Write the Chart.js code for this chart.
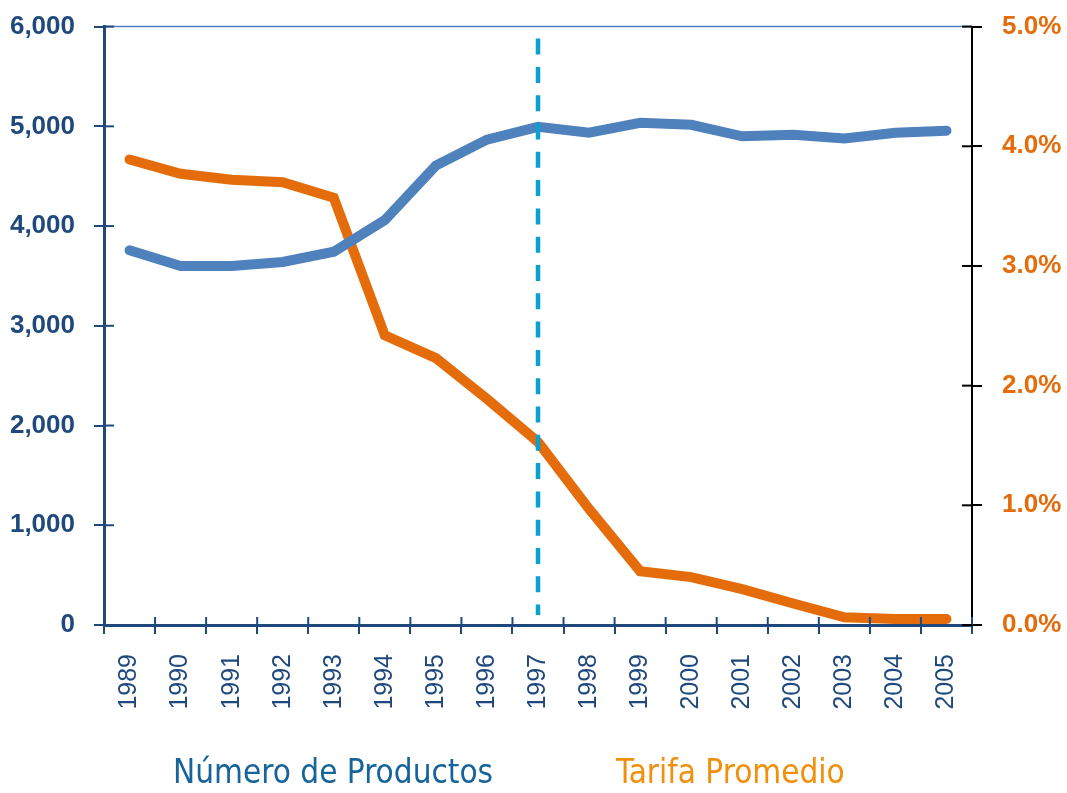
<!DOCTYPE html>
<html>

<head>
    <title>Chart</title>
    <script src="https://cdn.jsdelivr.net/npm/chart.js@4.4.0/dist/chart.umd.min.js"></script>
    <style>
        body { margin: 0; background: #fff; }
        #wrap { position: relative; width: 1067px; height: 793px; overflow: hidden; }
        #box { position: absolute; left: 0; top: -9px; width: 1067px; height: 802px; }
        .lg { position: absolute; top: 752px; font-family: 'DejaVu Sans Condensed', sans-serif; font-size: 33px; white-space: nowrap; }
    </style>
</head>

<body>
    <div id="wrap">
        <div id="box"><canvas id="ctx"></canvas></div>
        <div class="lg" style="left: 173px; color: #17649a;">Número de Productos</div>
        <div class="lg" style="left: 616px; color: #f0900c;">Tarifa Promedio</div>
    </div>

    <script>
        const years = ['1989', '1990', '1991', '1992', '1993', '1994', '1995', '1996', '1997',
                       '1998', '1999', '2000', '2001', '2002', '2003', '2004', '2005'];
        // número de productos (eje izquierdo)
        const productos = [3757, 3600, 3600, 3640, 3743, 4060, 4607, 4867, 4995,
                           4936, 5035, 5015, 4900, 4915, 4878, 4936, 4956];
        // tarifa promedio en % (eje derecho)
        const tarifa = [3.89, 3.77, 3.72, 3.70, 3.57, 2.42, 2.23, 1.89, 1.53,
                        0.97, 0.45, 0.40, 0.30, 0.18, 0.065, 0.05, 0.05];
        const markYear = '1997';

        const navy = '#1f497d';
        const font = "'Liberation Sans', Arial, sans-serif";

        // ticks that cross the axis, top border and the dashed 1997 line
        const decor = {
            id: 'decor',
            afterDatasetsDraw(chart) {
                const c = chart.ctx, a = chart.chartArea;
                const x = chart.scales.x, y = chart.scales.y, y1 = chart.scales.y1;
                c.save();
                c.strokeStyle = '#4f81bd';
                c.lineWidth = 1.5;
                c.beginPath();
                c.moveTo(a.left, a.top);
                c.lineTo(a.right, a.top);
                c.stroke();

                c.strokeStyle = '#0aa0d2';
                c.lineWidth = 4.5;
                c.setLineDash([16, 12.3]);
                const xm = x.getPixelForValue(years.indexOf(markYear));
                c.beginPath();
                c.moveTo(xm, a.top + 12);
                c.lineTo(xm, a.bottom - 10);
                c.stroke();
                c.setLineDash([]);

                c.lineWidth = 2;
                c.strokeStyle = navy;
                y.ticks.forEach(t => {
                    const py = y.getPixelForValue(t.value);
                    c.beginPath(); c.moveTo(a.left, py); c.lineTo(a.left + 10, py); c.stroke();
                });
                for (let i = 0; i <= years.length; i++) {
                    const px = a.left + (a.right - a.left) * i / years.length;
                    c.beginPath(); c.moveTo(px, a.bottom); c.lineTo(px, a.bottom - 8); c.stroke();
                }
                c.strokeStyle = '#000';
                y1.ticks.forEach(t => {
                    const py = y1.getPixelForValue(t.value);
                    c.beginPath(); c.moveTo(a.right, py); c.lineTo(a.right - 10, py); c.stroke();
                });
                c.restore();
            }
        };

        var chart = new Chart(document.getElementById('ctx'), {
            type: 'line',
            data: {
                labels: years,
                datasets: [{
                    label: 'Número de Productos',
                    data: productos,
                    yAxisID: 'y',
                    borderColor: '#4f81bd',
                    borderWidth: 10,
                    pointRadius: 0,
                    borderCapStyle: 'round',
                    tension: 0
                },
                {
                    label: 'Tarifa Promedio',
                    data: tarifa,
                    yAxisID: 'y1',
                    borderColor: '#e46c0a',
                    borderWidth: 10,
                    pointRadius: 0,
                    borderCapStyle: 'round',
                    tension: 0
                }]
            },
            options: {
                responsive: true,
                maintainAspectRatio: false,
                animation: false,
                layout: { padding: { top: 16, left: 0, right: 0, bottom: 0 } },
                plugins: {
                    legend: { display: false },
                    tooltip: { enabled: false }
                },
                scales: {
                    x: {
                        offset: true,
                        grid: { offset: true, drawOnChartArea: false, color: navy, lineWidth: 2, tickLength: 9 },
                        border: { color: navy, width: 3 },
                        ticks: {
                            color: navy, minRotation: 90, maxRotation: 90, padding: 20,
                            font: { family: font, size: 25 }
                        },
                        afterFit: s => { s.height = 168; }
                    },
                    y: {
                        position: 'left',
                        min: 0, max: 6000,
                        grid: { drawOnChartArea: false, color: navy, lineWidth: 2, tickLength: 10 },
                        border: { color: navy, width: 3 },
                        ticks: {
                            stepSize: 1000, color: navy, padding: 19,
                            font: { family: font, size: 26, weight: 'bold' },
                            callback: v => v.toLocaleString('en-US')
                        },
                        afterFit: s => { s.width = 104; }
                    },
                    y1: {
                        position: 'right',
                        min: 0, max: 5,
                        grid: { drawOnChartArea: false, color: '#000', lineWidth: 2, tickLength: 10 },
                        border: { color: '#000', width: 2 },
                        ticks: {
                            stepSize: 1, color: '#e46c0a', padding: 20,
                            font: { family: font, size: 26, weight: 'bold' },
                            callback: v => v.toFixed(1) + '%'
                        },
                        afterFit: s => { s.width = 95; }
                    }
                }
            },
            plugins: [decor]
        });
    </script>
</body>

</html>
